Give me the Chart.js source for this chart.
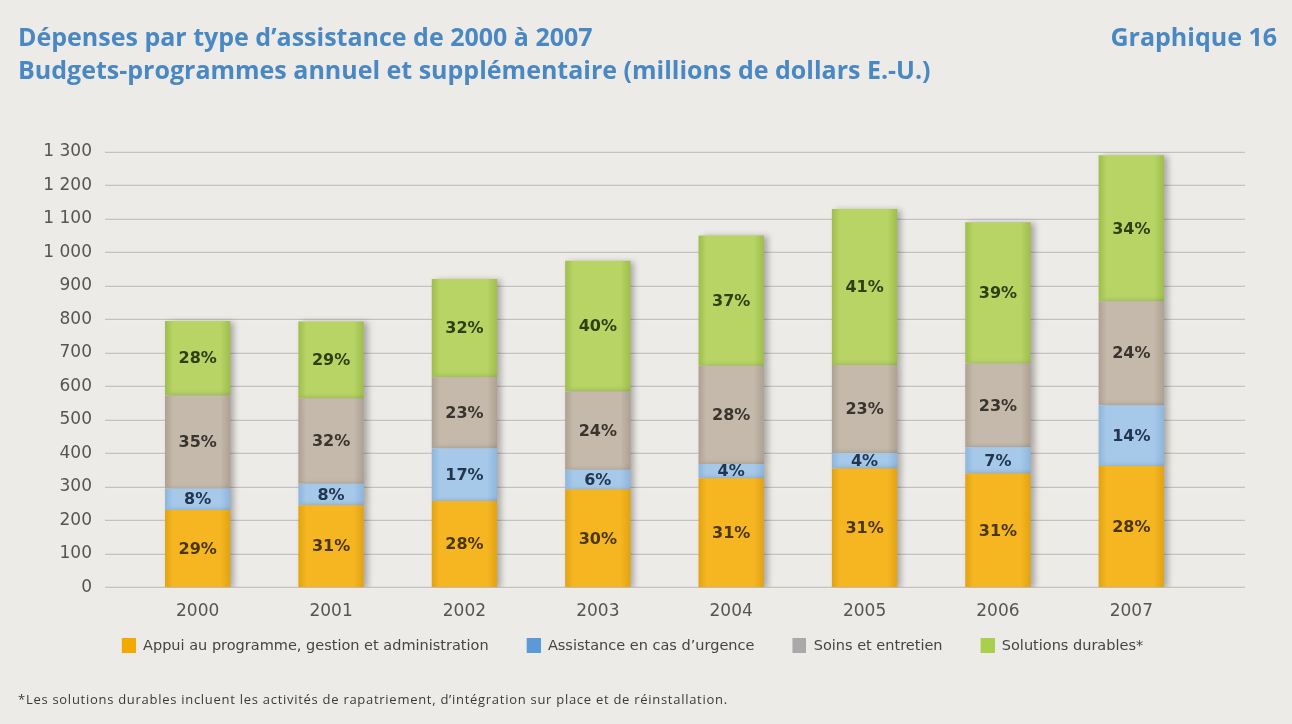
<!DOCTYPE html>
<html lang="fr">
<head>
<meta charset="utf-8">
<title>Dépenses par type d'assistance de 2000 à 2007</title>
<script src="https://cdn.jsdelivr.net/npm/chart.js@4/dist/chart.umd.min.js"></script>
<style>
    html, body {
        margin: 0;
        padding: 0;
        width: 1292px;
        height: 724px;
        overflow: hidden;
        background: #ecebe7;
        font-family: "Open Sans", sans-serif;
    }
    .wrap { position: relative; width: 1292px; height: 724px; }
    .title {
        position: absolute;
        left: 18px;
        top: 20px;
        color: #4a88c4;
        font-weight: bold;
        font-size: 25px;
        line-height: 33px;
    }
    .num {
        position: absolute;
        right: 15px;
        top: 20px;
        color: #4a88c4;
        font-weight: bold;
        font-size: 25px;
        line-height: 33px;
    }
    .note {
        position: absolute;
        left: 18px;
        top: 690px;
        font-size: 13px;
        letter-spacing: 0.72px;
        color: #3a3a3a;
    }
    canvas { position: absolute; left: 0; top: 0; }
</style>
</head>
<body>
<div class="wrap">
    <canvas id="chart" width="1292" height="724"></canvas>
    <div class="title">Dépenses par type d’assistance de 2000 à 2007<br>Budgets-programmes annuel et supplémentaire (millions de dollars E.-U.)</div>
    <div class="num">Graphique 16</div>
    <div class="note">*Les solutions durables incluent les activités de rapatriement, d’intégration sur place et de réinstallation.</div>
</div>
<script>
const years = ['2000', '2001', '2002', '2003', '2004', '2005', '2006', '2007'];

// millions de dollars
const appui = [231, 245, 258, 292, 326, 355, 340, 362];
const urgence = [64, 64, 157, 59, 42, 46, 78, 182];
const soins = [278, 255, 212, 234, 294, 263, 250, 310];
const durables = [222, 230, 294, 390, 389, 466, 422, 436];

const seriesNames = [
    'Appui au programme, gestion et administration',
    'Assistance en cas d’urgence',
    'Soins et entretien',
    'Solutions durables*'
];

const yTicks = [0, 100, 200, 300, 400, 500, 600, 700, 800, 900, 1000, 1100, 1200, 1300];

const colors = {
    appui: { base: '#f5b622', edge: '#e2a314', legend: '#f2aa00', text: '#4a3608' },
    urgence: { base: '#a6c9ea', edge: '#8fb5db', legend: '#5b9ad6', text: '#22364f' },
    soins: { base: '#c5b9ab', edge: '#aea192', legend: '#a9a9a9', text: '#3a342e' },
    durables: { base: '#b7d465', edge: '#9fbe4e', legend: '#a8d04c', text: '#2e3f12' }
};

const totals = years.map((_, i) => appui[i] + urgence[i] + soins[i] + durables[i]);

// carré de légende avec une marge transparente à gauche (espace entre les entrées)
const SWATCH_W = 49;
function legendSwatch(color) {
    const c = document.createElement('canvas');
    c.width = SWATCH_W;
    c.height = 15;
    const g = c.getContext('2d');
    g.fillStyle = color;
    g.fillRect(SWATCH_W - 14, 0, 14, 15);
    return c;
}

function barFill(c) {
    return (ctx) => {
        const chart = ctx.chart;
        const x = chart.scales.x;
        if (!x || ctx.dataIndex === undefined) return c.base;
        const cx = x.getPixelForValue(ctx.dataIndex);
        const half = 32.5;
        const g = chart.ctx.createLinearGradient(cx - half, 0, cx + half, 0);
        g.addColorStop(0, c.edge);
        g.addColorStop(0.12, c.base);
        g.addColorStop(0.85, c.base);
        g.addColorStop(1, c.edge);
        return g;
    };
}

function makeSet(label, data, c) {
    return {
        label,
        data,
        backgroundColor: barFill(c),
        swatch: legendSwatch(c.legend),
        textColor: c.text,
        borderWidth: 0,
        barPercentage: 0.49,
        categoryPercentage: 1.0
    };
}

// lignes horizontales qui dépassent la zone du graphique, comme l'original
const refGrid = {
    id: 'refGrid',
    beforeDatasetsDraw(chart) {
        const { ctx, chartArea, scales } = chart;
        ctx.save();
        scales.y.ticks.forEach(t => {
            const y = Math.round(scales.y.getPixelForValue(t.value)) + 0.5;
            ctx.strokeStyle = 'rgba(255,255,255,0.8)';
            ctx.lineWidth = 1;
            ctx.beginPath();
            ctx.moveTo(chartArea.left - 26, y + 1);
            ctx.lineTo(chartArea.right + 47, y + 1);
            ctx.stroke();
            ctx.strokeStyle = '#c4c2be';
            ctx.lineWidth = 1.5;
            ctx.beginPath();
            ctx.moveTo(chartArea.left - 26, y);
            ctx.lineTo(chartArea.right + 47, y);
            ctx.stroke();
        });
        ctx.restore();
    }
};

const barShadow = {
    id: 'barShadow',
    beforeDatasetDraw(chart) {
        const ctx = chart.ctx;
        ctx.save();
        ctx.shadowColor = 'rgba(0,0,0,0.28)';
        ctx.shadowBlur = 6;
        ctx.shadowOffsetX = 4;
        ctx.shadowOffsetY = 1;
    },
    afterDatasetDraw(chart) {
        chart.ctx.restore();
    }
};

const pctLabels = {
    id: 'pctLabels',
    afterDatasetsDraw(chart) {
        const ctx = chart.ctx;
        ctx.save();
        ctx.font = 'bold 16px "DejaVu Sans", sans-serif';
        ctx.textAlign = 'center';
        ctx.textBaseline = 'middle';
        chart.data.datasets.forEach((ds, di) => {
            const meta = chart.getDatasetMeta(di);
            meta.data.forEach((bar, i) => {
                const pct = Math.round(ds.data[i] / totals[i] * 100) + '%';
                ctx.fillStyle = ds.textColor;
                ctx.fillText(pct, bar.x, (bar.y + bar.base) / 2 + 1);
            });
        });
        ctx.restore();
    }
};

function fmtThousands(v) {
    if (v >= 1000) return Math.floor(v / 1000) + ' ' + String(v % 1000).padStart(3, '0');
    return String(v);
}

const ctx = document.getElementById('chart').getContext('2d');
new Chart(ctx, {
    type: 'bar',
    data: {
        labels: years,
        datasets: [
            makeSet(seriesNames[0], appui, colors.appui),
            makeSet(seriesNames[1], urgence, colors.urgence),
            makeSet(seriesNames[2], soins, colors.soins),
            makeSet(seriesNames[3], durables, colors.durables)
        ]
    },
    options: {
        responsive: false,
        animation: false,
        events: [],
        layout: {
            padding: { top: 152, right: 94, bottom: 61, left: 32 }
        },
        plugins: {
            legend: {
                position: 'bottom',
                labels: {
                    usePointStyle: true,
                    pointStyleWidth: SWATCH_W,
                    boxHeight: 15,
                    padding: 3,
                    color: '#444',
                    font: { family: '"DejaVu Sans", sans-serif', size: 14.5 },
                    generateLabels(chart) {
                        return chart.data.datasets.map((ds, i) => ({
                            text: ds.label,
                            pointStyle: ds.swatch,
                            fillStyle: 'transparent',
                            strokeStyle: 'transparent',
                            lineWidth: 0,
                            fontColor: '#444',
                            datasetIndex: i
                        }));
                    }
                }
            },
            tooltip: { enabled: false }
        },
        scales: {
            x: {
                stacked: true,
                grid: { display: false, drawTicks: false },
                border: { display: false },
                ticks: {
                    color: '#555',
                    padding: 19,
                    font: { family: '"DejaVu Sans", sans-serif', size: 17, lineHeight: 0.6 }
                }
            },
            y: {
                stacked: true,
                min: 0,
                max: 1300,
                afterBuildTicks(scale) {
                    scale.ticks = yTicks.map(v => ({ value: v }));
                },
                afterFit(scale) {
                    scale.width = 99;
                },
                grid: { display: false, drawTicks: false },
                border: { display: false },
                ticks: {
                    color: '#555',
                    padding: 39,
                    font: { family: '"DejaVu Sans", sans-serif', size: 17 },
                    callback: v => fmtThousands(v)
                }
            }
        }
    },
    plugins: [refGrid, barShadow, pctLabels]
});
</script>
</body>
</html>
